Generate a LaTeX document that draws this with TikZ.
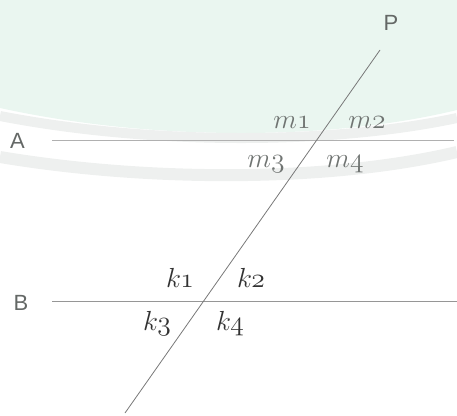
\documentclass[tikz,border=0pt]{standalone}
\usepackage{graphicx}
\usepackage{fontspec}
\newfontfamily\lsans{Liberation Sans}
\definecolor{wmgreen}{RGB}{234,246,240}
\definecolor{wmgray}{RGB}{238,240,239}
\definecolor{mlab}{RGB}{112,116,114}
\definecolor{klab}{RGB}{50,50,50}
\definecolor{slab}{RGB}{100,104,102}
\newcommand\mi[1]{\scalebox{2.3}{\usefont{OML}{lmm}{m}{it}\fontsize{12}{12}\selectfont #1}}
\tikzset{
  mlabel/.style={anchor=base, inner sep=0pt, text=mlab},
  klabel/.style={anchor=base, inner sep=0pt, text=klab},
  slabel/.style={anchor=base, inner sep=0pt, text=slab, font=\lsans\fontsize{22}{22}\selectfont},
  lineA/.style={draw={rgb,255:red,176;green,176;blue,176}, line width=1pt},
  lineB/.style={draw={rgb,255:red,150;green,150;blue,150}, line width=1pt},
  trans/.style={draw={rgb,255:red,120;green,120;blue,120}, line width=0.8pt},
  band/.style={draw=wmgray}
}
\begin{document}
\begin{tikzpicture}[x=1pt,y=-1pt]
\useasboundingbox (0,0) rectangle (457,415);
% watermark background
\fill[wmgreen] (0,0) -- (457,0) -- (457,110) .. controls (330,141) and (150,141) .. (0,108) -- cycle;
\draw[band, line width=10pt] (0,116) .. controls (150,145) and (330,145) .. (457,118);
\draw[band, line width=12pt] (0,157) .. controls (150,182) and (330,182) .. (457,152);
% line end points
\coordinate (A1) at (52,140.5);
\coordinate (A2) at (454,140.5);
\coordinate (B1) at (52,301.3);
\coordinate (B2) at (457,301.3);
\coordinate (T1) at (380,50);
\coordinate (T2) at (125,413);
\draw[lineA] (A1) -- (A2);
\draw[lineB] (B1) -- (B2);
\draw[trans] (T1) -- (T2);
% labels
\node[slabel] (lA) at (17.5,148.3) {A};
\node[slabel] (lB) at (21,310.7) {B};
\node[slabel] (lP) at (391,30) {P};
\node[mlabel] (m1) at (292,128.3) {\mi{m1}};
\node[mlabel] (m2) at (367,128.3) {\mi{m2}};
\node[mlabel] (m3) at (266,167.3) {\mi{m3}};
\node[mlabel] (m4) at (345,167.3) {\mi{m4}};
\node[klabel] (k1) at (180,287.7) {\mi{k1}};
\node[klabel] (k2) at (251,287.7) {\mi{k2}};
\node[klabel] (k3) at (157,330) {\mi{k3}};
\node[klabel] (k4) at (230,330) {\mi{k4}};
\end{tikzpicture}
\end{document}
